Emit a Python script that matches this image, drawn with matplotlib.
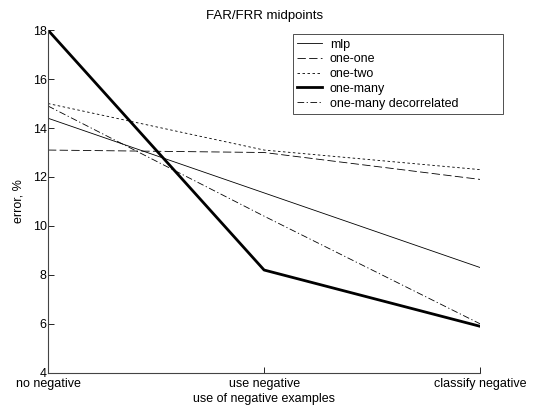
import matplotlib
matplotlib.use("Agg")
import matplotlib.pyplot as plt

# data
categories = ["no negative", "use negative", "classify negative"]
mlp = [14.4, 11.35, 8.3]
one_one = [13.1, 13.0, 11.9]
one_two = [15.0, 13.1, 12.3]
one_many = [18.0, 8.2, 5.9]
one_many_decor = [14.9, 10.4, 6.0]

plt.rcParams["font.family"] = ["Liberation Sans", "DejaVu Sans"]
plt.rcParams["font.size"] = 9

fig = plt.figure(figsize=(5.33, 4.12), dpi=100)
ax = fig.add_axes([0.09, 0.095, 0.811, 0.832])

x = list(range(len(categories)))
ax.plot(x, mlp, color="black", lw=0.6, label="mlp")
ax.plot(x, one_one, color="black", lw=0.6, dashes=(10, 4), label="one-one")
ax.plot(x, one_two, color="black", lw=0.6, dashes=(3, 3), label="one-two")
ax.plot(x, one_many, color="black", lw=2.0, label="one-many")
ax.plot(x, one_many_decor, color="black", lw=0.6, dashes=(8, 3, 1.5, 3),
        label="one-many decorrelated")

ax.set_xlim(0, 2)
ax.set_ylim(4, 18)
ax.set_xticks(x)
ax.set_xticklabels(categories)
ax.set_yticks(range(4, 19, 2))
ax.tick_params(direction="in", length=4, width=0.6, pad=2)
ax.tick_params(axis="x", pad=4)
ax.tick_params(axis="y", pad=1)
for s in ("top", "right"):
    ax.spines[s].set_visible(False)
for s in ("left", "bottom"):
    ax.spines[s].set_linewidth(0.8)
    ax.spines[s].set_color("#444444")

ax.set_title("FAR/FRR midpoints", fontsize=9.5, pad=8)
ax.set_xlabel("use of negative examples", labelpad=2)
ax.set_ylabel("error, %", labelpad=6)

# legend box sticks out past the right end of the axes, as in the original
leg = ax.legend(loc="upper left", bbox_to_anchor=(0.567, 0.5, 0.486, 0.488),
                mode="expand", frameon=True, fancybox=False,
                edgecolor="black", handlelength=2.0, handletextpad=0.6,
                borderpad=0.35, labelspacing=0.22, borderaxespad=0)
leg.get_frame().set_linewidth(0.6)

fig.savefig("out.png", dpi=100)
